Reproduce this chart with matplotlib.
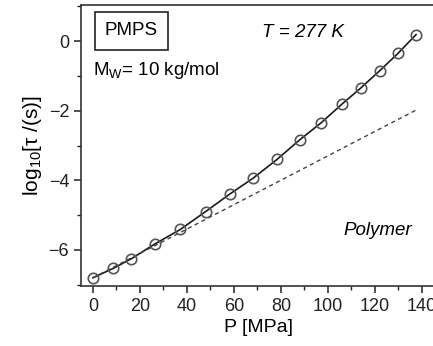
import numpy as np
import matplotlib.pyplot as plt
from matplotlib.ticker import MultipleLocator

plt.rcParams['font.family'] = ['Liberation Sans', 'DejaVu Sans']
plt.rcParams['mathtext.fontset'] = 'custom'
plt.rcParams['mathtext.rm'] = 'Liberation Sans'
plt.rcParams['mathtext.it'] = 'Liberation Sans:italic'

# data
pressure = [0, 8.6, 16.4, 26.3, 37.2, 47.9, 58.3, 68.1, 78.3, 87.9,
            97.2, 106.1, 113.9, 122.0, 129.8, 137.5]
log_tau = [-6.80, -6.53, -6.25, -5.83, -5.41, -4.90, -4.39, -3.94, -3.40,
           -2.84, -2.34, -1.80, -1.35, -0.85, -0.35, 0.19]
polymer_p = [0, 137.5]
polymer_log_tau = [-6.80, -1.98]

fig = plt.figure(figsize=(4.33, 3.46), dpi=100)
ax = fig.add_axes([0.187, 0.173, 0.82, 0.8125])

ax.plot(pressure, log_tau, '-', color='#1a1a1a', lw=1.2, zorder=2)
ax.plot(pressure, log_tau, 'o', mfc='none', mec='#555555', ms=7.5, mew=1.2, zorder=3)
ax.plot(polymer_p, polymer_log_tau, '--', color='#444444', lw=1.0, dashes=(3, 2.5))

ax.set_xlim(-5.1, 146)
ax.set_ylim(-7.04, 1.04)
ax.xaxis.set_major_locator(MultipleLocator(20))
ax.xaxis.set_minor_locator(MultipleLocator(10))
ax.yaxis.set_minor_locator(MultipleLocator(1))
ax.set_yticks([-6, -4, -2, 0])
ax.set_yticklabels(['\u22126', '\u22124', '\u22122', '0'])
ax.tick_params(which='major', direction='out', length=5, width=1.1, labelsize=13, colors='#222222')
ax.tick_params(which='minor', direction='out', length=3, width=1.0, colors='#222222')

for s in ax.spines.values():
    s.set_linewidth(1.2)
    s.set_color('#333333')

ax.set_xlabel('P [MPa]', fontsize=14, labelpad=3)
ax.set_ylabel(r'log$_{10}$[τ /(s)]', fontsize=15, labelpad=3)

ax.text(16.4, 0.30, 'PMPS', fontsize=13.5, va='center', ha='center',
        bbox=dict(boxstyle='square,pad=0.55', fc='white', ec='#222222', lw=1.2))
ax.text(0, -0.85, r'M$_{\mathrm{W}}$= 10 kg/mol', fontsize=13.5, va='center', ha='left')
ax.text(72, 0.24, 'T = 277 K', fontsize=13.5, style='italic', va='center', ha='left')
ax.text(136, -5.43, 'Polymer', fontsize=13.5, style='italic', va='center', ha='right')

fig.savefig('out.png', dpi=100)
